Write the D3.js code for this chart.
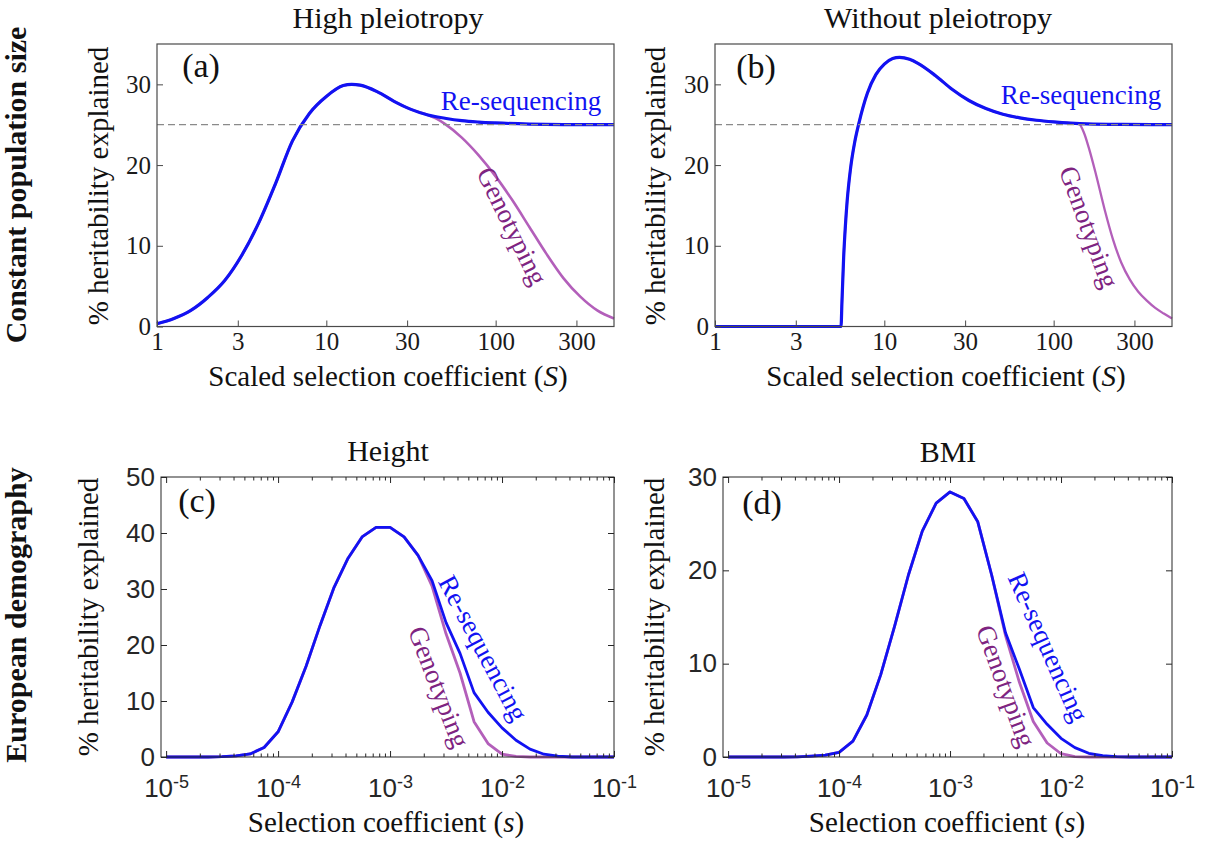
<!DOCTYPE html>
<html>
<head>
<meta charset="utf-8">
<script src="https://cdn.jsdelivr.net/npm/d3@7"></script>
<style>
  body { margin: 0; background: #fff; }
  svg { display: block; }
</style>
</head>
<body>
<svg id="fig" width="1207" height="846"></svg>
<script>
// ---------- Constant population size: high pleiotropy ----------
const highS        = [1, 1.259, 1.585, 1.995, 2.512, 3.162, 3.981, 5.012, 6.31, 7.943, 10, 12.59, 14.13, 15.85, 19.95, 25.12, 31.62, 39.81, 50.12, 63.1, 79.43, 100, 158.5, 251.2, 500];
const highReseq    = [0.35, 1.0, 2.0, 3.6, 5.7, 8.8, 12.8, 17.7, 23.0, 26.4, 28.5, 29.85, 30.0, 29.9, 29.1, 27.9, 26.9, 26.2, 25.8, 25.5, 25.33, 25.22, 25.08, 25.02, 25.0];
const highGenoS    = [1, 1.259, 1.585, 1.995, 2.512, 3.162, 3.981, 5.012, 6.31, 7.943, 10, 12.59, 14.13, 15.85, 19.95, 25.12, 31.62, 39.81, 44.67, 50.12, 63.1, 79.43, 100, 125.9, 158.5, 199.5, 251.2, 316.2, 398.1, 500];
const highGeno     = [0.35, 1.0, 2.0, 3.6, 5.7, 8.8, 12.8, 17.7, 23.0, 26.4, 28.5, 29.85, 30.0, 29.9, 29.1, 27.9, 26.9, 26.2, 25.75, 25.1, 23.4, 21.2, 18.6, 15.6, 12.3, 9.0, 6.0, 3.7, 2.0, 1.0];

// ---------- Constant population size: without pleiotropy ----------
const noS          = [1, 5.55, 5.62, 5.75, 5.89, 6.03, 6.31, 6.68, 7.08, 7.94, 8.91, 10, 11.2, 12.3, 14.1, 15.8, 20, 25.1, 31.6, 39.8, 50.1, 63.1, 79.4, 100, 126, 158, 251, 500];
const noReseq      = [0, 0, 3, 8.5, 12.5, 15.5, 19.5, 22.8, 25.2, 28.9, 31.2, 32.5, 33.2, 33.35, 33.1, 32.6, 31.1, 29.4, 28.0, 27.0, 26.3, 25.85, 25.55, 25.35, 25.2, 25.1, 25.03, 25.0];
const noGenoS      = [1, 5.55, 5.62, 5.75, 5.89, 6.03, 6.31, 6.68, 7.08, 7.94, 8.91, 10, 11.2, 12.3, 14.1, 15.8, 20, 25.1, 31.6, 39.8, 50.1, 63.1, 79.4, 100, 126, 141, 151, 162, 178, 200, 224, 251, 282, 316, 355, 398, 447, 500];
const noGeno       = [0, 0, 3, 8.5, 12.5, 15.5, 19.5, 22.8, 25.2, 28.9, 31.2, 32.5, 33.2, 33.35, 33.1, 32.6, 31.1, 29.4, 28.0, 27.0, 26.3, 25.85, 25.55, 25.35, 25.2, 25.1, 24.0, 22.0, 18.8, 14.5, 10.8, 7.9, 5.8, 4.3, 3.2, 2.3, 1.6, 1.0];

const scaledTicks  = [1, 3, 10, 30, 100, 300];
const constYTicks  = [0, 10, 20, 30];
const plateau      = 25;

// ---------- European demography (log10 of s) ----------
const logS = [-5, -4.875, -4.75, -4.625, -4.5, -4.375, -4.25, -4.125, -4, -3.875, -3.75, -3.625, -3.5, -3.375, -3.25, -3.125, -3,
              -2.875, -2.75, -2.625, -2.5, -2.375, -2.25, -2.125, -2, -1.875, -1.75, -1.625, -1.5, -1.375, -1.25, -1.125, -1];
const heightReseq = [0, 0, 0, 0, 0.05, 0.2, 0.55, 1.7, 4.5, 9.8, 16.2, 23.5, 30.3, 35.5, 39.3, 41.0, 41.0,
                     39.3, 36.0, 31.5, 24.0, 18.5, 11.5, 8.0, 5.2, 3.0, 1.4, 0.5, 0.15, 0, 0, 0, 0];
const heightGeno  = [0, 0, 0, 0, 0.05, 0.2, 0.55, 1.7, 4.5, 9.8, 16.2, 23.5, 30.3, 35.5, 39.3, 41.0, 41.0,
                     39.3, 36.0, 30.5, 22.0, 15.0, 6.3, 2.4, 0.5, 0.1, 0, 0, 0, 0, 0, 0, 0];
const bmiReseq    = [0, 0, 0, 0, 0, 0.02, 0.1, 0.2, 0.5, 1.7, 4.5, 8.8, 14.0, 19.5, 24.2, 27.2, 28.4,
                     27.7, 25.2, 19.5, 13.3, 9.4, 5.3, 3.5, 2.0, 1.0, 0.4, 0.15, 0.05, 0, 0, 0, 0];
const bmiGeno     = [0, 0, 0, 0, 0, 0.02, 0.1, 0.2, 0.5, 1.7, 4.5, 8.8, 14.0, 19.5, 24.2, 27.2, 28.4,
                     27.7, 25.2, 19.5, 13.0, 8.0, 3.8, 1.5, 0.35, 0.05, 0, 0, 0, 0, 0, 0, 0];
const decadeTicks = [1e-5, 1e-4, 1e-3, 1e-2, 1e-1];
const heightYTicks = [0, 10, 20, 30, 40, 50];
const bmiYTicks    = [0, 10, 20, 30];

// ---------- styling ----------
const SERIF = "'Liberation Serif', 'Times New Roman', serif";
const SANS = "'Liberation Sans', Arial, Helvetica, sans-serif";
const BLUE = "#1212f2";
const PURPLE = "#b35fba";
const PURPLE_TXT = "#7e2481";
const FRAME = "#4a4a4a";
const MFRAME = "#262626";

const svg = d3.select("#fig");

function addText(x, y, str, o = {}) {
  const t = svg.append("text")
    .attr("font-family", o.family || SERIF)
    .attr("font-size", o.size || 28)
    .attr("font-weight", o.weight || "normal")
    .attr("fill", o.color || "#111")
    .attr("text-anchor", o.anchor || "middle")
    .attr("transform", `translate(${x},${y})` + (o.rotate ? ` rotate(${o.rotate})` : ""));
  if (o.baseline) t.attr("dominant-baseline", o.baseline);
  if (o.italicTail) {
    t.append("tspan").text(str);
    t.append("tspan").attr("font-style", "italic").text(o.italicTail);
    t.append("tspan").text(")");
  } else {
    t.text(str);
  }
  return t;
}

// ---------- Mathematica-style panels (a), (b) ----------
function scaledPanel(box, series) {
  const x = d3.scaleLog().domain([1, 500]).range([box.L, box.R]);
  const y = d3.scaleLinear().domain([0, 35]).range([box.B, box.T]);
  const g = svg.append("g");

  const line = d3.line().curve(d3.curveMonotoneX).x(d => x(d[0])).y(d => y(d[1]));
  series.forEach(s => {
    g.append("path")
      .datum(d3.zip(s.xs, s.ys))
      .attr("d", line)
      .attr("fill", "none")
      .attr("stroke", s.color)
      .attr("stroke-width", s.width)
      .attr("stroke-linejoin", "round");
  });

  // asymptote
  g.append("line")
    .attr("x1", box.L).attr("x2", box.R)
    .attr("y1", y(plateau)).attr("y2", y(plateau))
    .attr("stroke", "#8a8a8a").attr("stroke-width", 1.3)
    .attr("stroke-dasharray", "7,4");

  const xa = g.append("g").attr("transform", `translate(0,${box.B})`)
    .call(d3.axisBottom(x).tickValues(scaledTicks).tickFormat(d3.format("d")).tickSize(-6).tickPadding(6));
  const ya = g.append("g").attr("transform", `translate(${box.L},0)`)
    .call(d3.axisLeft(y).tickValues(constYTicks).tickSize(-6).tickPadding(6));
  [xa, ya].forEach(a => {
    a.select(".domain").remove();
    a.selectAll(".tick line").attr("stroke", FRAME);
    a.selectAll(".tick text").attr("font-family", SERIF).attr("font-size", 25).attr("fill", "#1a1a1a");
  });

  g.append("rect")
    .attr("x", box.L).attr("y", box.T)
    .attr("width", box.R - box.L).attr("height", box.B - box.T)
    .attr("fill", "none").attr("stroke", FRAME).attr("stroke-width", 1.2);
}

// ---------- MATLAB-style panels (c), (d) ----------
function demographyPanel(box, yMax, yTicks, series) {
  const x = d3.scaleLog().domain([9e-6, 0.1]).range([box.L, box.R]);
  const y = d3.scaleLinear().domain([0, yMax]).range([box.B, box.T]);
  const g = svg.append("g");

  const minor = [];
  for (let e = -6; e <= -2; e++) for (let m = 2; m <= 9; m++) {
    const v = m * Math.pow(10, e);
    if (v > 9e-6 && v < 0.1) minor.push(v);
  }

  const line = d3.line().x(d => x(Math.pow(10, d[0]))).y(d => y(d[1]));
  series.forEach(s => {
    g.append("path")
      .datum(d3.zip(logS, s.ys))
      .attr("d", line)
      .attr("fill", "none")
      .attr("stroke", s.color)
      .attr("stroke-width", 2.8)
      .attr("stroke-linejoin", "round");
  });

  // minor ticks top and bottom
  g.append("g").attr("transform", `translate(0,${box.B})`)
    .call(d3.axisBottom(x).tickValues(minor).tickSize(-3.5).tickFormat(""));
  g.append("g").attr("transform", `translate(0,${box.T})`)
    .call(d3.axisTop(x).tickValues(minor).tickSize(-3.5).tickFormat(""));
  g.append("g").attr("transform", `translate(0,${box.T})`)
    .call(d3.axisTop(x).tickValues(decadeTicks).tickSize(-6).tickFormat(""));
  g.append("g").attr("transform", `translate(${box.R},0)`)
    .call(d3.axisRight(y).tickValues(yTicks).tickSize(-6).tickFormat(""));

  const xa = g.append("g").attr("transform", `translate(0,${box.B})`)
    .call(d3.axisBottom(x).tickValues(decadeTicks).tickSize(-6).tickPadding(0));
  xa.selectAll(".tick text").each(function (d) {
    const t = d3.select(this);
    const exp = Math.round(Math.log10(d));
    t.text(null).attr("y", 40).attr("dy", null);
    t.append("tspan").text("10");
    t.append("tspan").attr("dy", "-0.5em").attr("font-size", 18).text(String(exp));
  });

  const ya = g.append("g").attr("transform", `translate(${box.L},0)`)
    .call(d3.axisLeft(y).tickValues(yTicks).tickSize(-6).tickPadding(6));

  g.selectAll(".domain").remove();
  g.selectAll(".tick line").attr("stroke", MFRAME);
  [xa, ya].forEach(a => a.selectAll(".tick text")
    .attr("font-family", SANS).attr("font-size", 26).attr("fill", MFRAME));

  g.append("rect")
    .attr("x", box.L).attr("y", box.T)
    .attr("width", box.R - box.L).attr("height", box.B - box.T)
    .attr("fill", "none").attr("stroke", MFRAME).attr("stroke-width", 1);
}

const boxA = { L: 157, R: 614, T: 44, B: 326.5 };
const boxB = { L: 715, R: 1172, T: 44, B: 326.5 };
const boxC = { L: 161, R: 614, T: 477, B: 757 };
const boxD = { L: 723, R: 1172, T: 477, B: 757 };

scaledPanel(boxA, [
  { xs: highGenoS, ys: highGeno, color: PURPLE, width: 2.6 },
  { xs: highS, ys: highReseq, color: BLUE, width: 3.2 }
]);
scaledPanel(boxB, [
  { xs: noGenoS, ys: noGeno, color: PURPLE, width: 2.3 },
  { xs: noS, ys: noReseq, color: BLUE, width: 3.2 }
]);
demographyPanel(boxC, 50, heightYTicks, [
  { ys: heightGeno, color: PURPLE },
  { ys: heightReseq, color: BLUE }
]);
demographyPanel(boxD, 30, bmiYTicks, [
  { ys: bmiGeno, color: PURPLE },
  { ys: bmiReseq, color: BLUE }
]);

// ---------- titles ----------
addText(388, 28, "High pleiotropy", { size: 30 });
addText(938, 28, "Without pleiotropy", { size: 30 });
addText(388, 461, "Height", { size: 30 });
addText(948, 462, "BMI", { size: 30 });

// row labels
addText(26, 185, "Constant population size", { size: 30, weight: "bold", rotate: -90 });
addText(26, 615, "European demography", { size: 30, weight: "bold", rotate: -90 });

// axis titles
addText(108, 186, "% heritability explained", { size: 29, rotate: -90 });
addText(665, 186, "% heritability explained", { size: 29, rotate: -90 });
addText(98, 617, "% heritability explained", { size: 29, rotate: -90 });
addText(664, 617, "% heritability explained", { size: 29, rotate: -90 });
addText(388, 386, "Scaled selection coefficient (", { size: 29, italicTail: "S" });
addText(946, 386, "Scaled selection coefficient (", { size: 29, italicTail: "S" });
addText(386, 832, "Selection coefficient (", { size: 29, italicTail: "s" });
addText(947, 832, "Selection coefficient (", { size: 29, italicTail: "s" });

// panel letters
addText(201, 77, "(a)", { size: 34 });
addText(756, 78, "(b)", { size: 34 });
addText(197, 512, "(c)", { size: 34 });
addText(762, 514, "(d)", { size: 34 });

// curve labels
addText(521, 110, "Re-sequencing", { size: 27, color: BLUE });
addText(1081, 104, "Re-sequencing", { size: 27, color: BLUE });
addText(512, 226, "Genotyping", { size: 27, color: PURPLE_TXT, rotate: 64, baseline: "central" });
addText(1089, 227, "Genotyping", { size: 27, color: PURPLE_TXT, rotate: 70, baseline: "central" });
addText(483, 648, "Re-sequencing", { size: 27, color: BLUE, rotate: 62, baseline: "central" });
addText(439, 687, "Genotyping", { size: 27, color: PURPLE_TXT, rotate: 69, baseline: "central" });
addText(1048, 647, "Re-sequencing", { size: 27, color: BLUE, rotate: 66, baseline: "central" });
addText(1006, 686, "Genotyping", { size: 27, color: PURPLE_TXT, rotate: 70, baseline: "central" });
</script>
</body>
</html>
